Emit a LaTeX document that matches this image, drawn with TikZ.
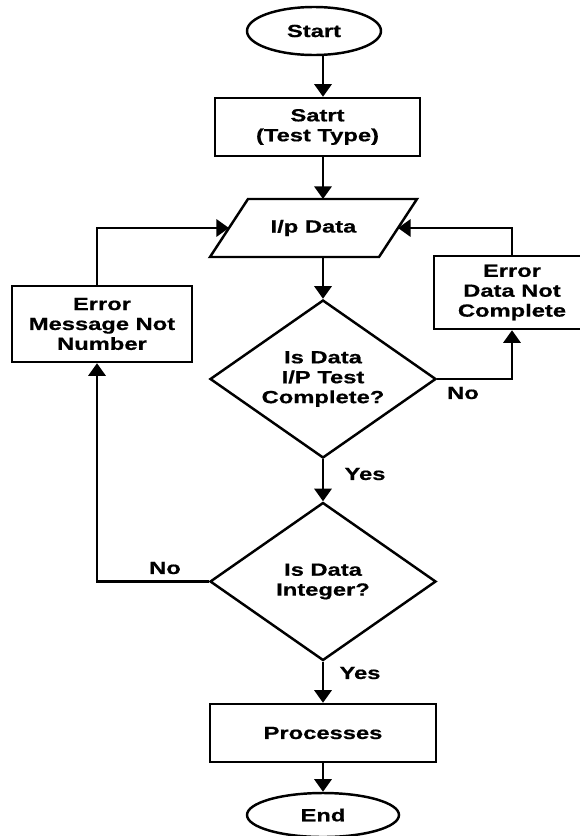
\documentclass[tikz,border=0pt]{standalone}
\usepackage{fontspec}
\setmainfont{Liberation Sans}[FakeStretch=1.35,BoldFeatures={FakeBold=0.6}]
\usetikzlibrary{shapes.geometric,arrows.meta}

\tikzset{
  flow/.style={draw,line width=2.1pt,inner sep=0pt,align=center,
    font=\bfseries\fontsize{15}{17}\selectfont},
  termbox/.style={flow,ellipse},
  procbox/.style={flow,rectangle},
  decide/.style={flow,diamond,aspect=1.43,minimum width=6.78cm,minimum height=4.74cm},
  lbl/.style={font=\bfseries\fontsize{15}{17}\selectfont},
  arr/.style={line width=2.1pt,-{Triangle[length=3.8mm,width=5.2mm]}}
}

\begin{document}
\begin{tikzpicture}[x=0.03cm,y=-0.03cm]
  \useasboundingbox (0,0) rectangle (579,836);
  % main column
  \node[termbox,minimum width=4.02cm,minimum height=1.44cm] (start) at (314,31) {Start};
  \node[procbox,minimum width=6.15cm,minimum height=1.74cm] (satrt) at (317.5,127) {Satrt\\(Test Type)};
  \node[flow,draw=none,outer sep=0pt,minimum width=5.07cm,minimum height=1.74cm] (ipdata) at (313.5,228) {I/p Data};
  \draw[line width=2.1pt] ([xshift=0.57cm]ipdata.north west) -- ([xshift=0.57cm]ipdata.north east)
    -- ([xshift=-0.57cm]ipdata.south east) -- ([xshift=-0.57cm]ipdata.south west) -- cycle;
  \node[decide] (check) at (323,379) {Is Data\\I/P Test\\Complete?};
  \node[decide] (isint) at (323,581.5) {Is Data\\Integer?};
  \node[procbox,minimum width=6.78cm,minimum height=1.74cm] (proc) at (323,733) {Processes};
  \node[termbox,minimum width=4.56cm,minimum height=1.32cm] (finish) at (323,815) {End};
  % error boxes
  \node[procbox,minimum width=4.68cm,minimum height=2.19cm] (errdata) at (512,292.5) {Error\\Data Not\\Complete};
  \node[procbox,minimum width=5.4cm,minimum height=2.28cm] (errnum) at (102,324) {Error\\Message Not\\Number};
  % labels
  \node[lbl] (yes1) at (365,474) {Yes};
  \node[lbl] (yes2) at (360,673) {Yes};
  \node[lbl] (no1) at (463,393) {No};
  \node[lbl] (no2) at (165,568) {No};
  \coordinate (mid) at (323,0);
  \coordinate (lx) at (97,0);
  % arrows
  \draw[arr] (start.south -| mid) -- (satrt.north -| mid);
  \draw[arr] (satrt.south -| mid) -- (ipdata.north -| mid);
  \draw[arr] (ipdata.south -| mid) -- (check.north);
  \draw[arr] (check.south) -- (isint.north);
  \draw[arr] (isint.south) -- (proc.north);
  \draw[arr] (proc.south) -- (finish.north);
  \draw[arr] (check.east) -| (errdata.south);
  \draw[arr] (errdata.north) |- (ipdata.east);
  \draw[arr] (isint.west) -| (lx |- errnum.south);
  \draw[arr] (lx |- errnum.north) |- (ipdata.west);
\end{tikzpicture}
\end{document}
